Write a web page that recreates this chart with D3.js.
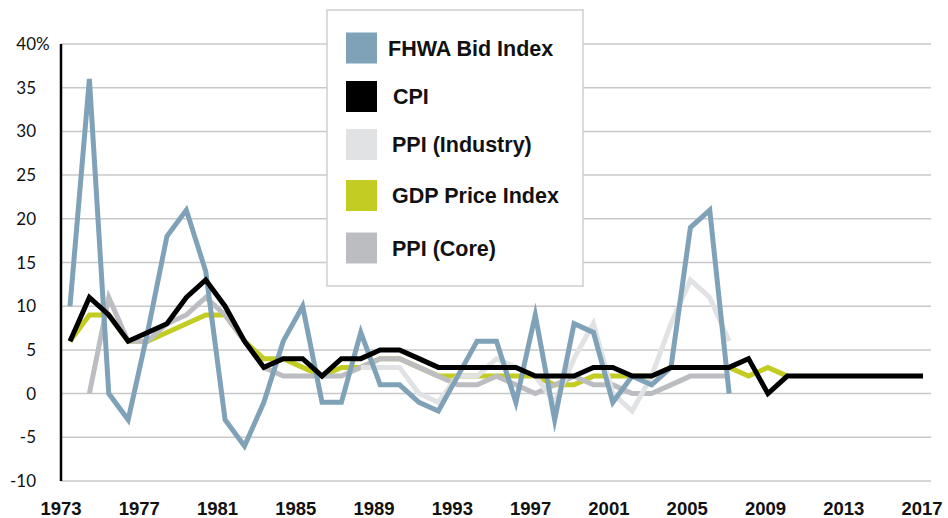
<!DOCTYPE html>
<html><head><meta charset="utf-8">
<script src="https://cdn.jsdelivr.net/npm/d3@7"></script>
<style>body{margin:0;background:#fff}svg{display:block}</style>
</head><body>
<svg id="c" width="948" height="518"></svg>
<script>
const years = d3.range(1973, 2018);
const fhwa = [10,36,0,-3,7,18,21,14,-3,-6,-1,6,10,-1,-1,7,1,1,-1,-2,2,6,6,-1,9,-3,8,7,-1,2,1,3,19,21,0];
const cpi = [6,11,9,6,7,8,11,13,10,6,3,4,4,2,4,4,5,5,4,3,3,3,3,3,2,2,2,3,3,2,2,3,3,3,3,4,0,2,2,2,2,2,2,2,2];
const ppiIndustryStart = 1988;
const ppiIndustry = [3,3,3,0,-1,2,2,4,3,2,-1,4,8,0,-2,2,8,13,11,6];
const gdp = [6,9,9,6,6,7,8,9,9,6,4,4,3,2,3,3,4,4,3,2,2,2,2,2,2,1,1,2,2,2,2,3,3,3,3,2,3,2];
const ppiCoreStart = 1974;
const ppiCore = [0,11,6,6,8,9,11,9,6,3,2,2,2,2,3,4,4,3,2,1,1,2,1,0,1,2,1,1,0,0,1,2,2,2];
const yTicks = [-10,-5,0,5,10,15,20,25,30,35,40];
const xTicks = [1973,1977,1981,1985,1989,1993,1997,2001,2005,2009,2013,2017];
const legendNames = ["FHWA Bid Index","CPI","PPI (Industry)","GDP Price Index","PPI (Core)"];
const colors = ["#7fa2b8","#000000","#e1e2e3","#c2cc22","#bcbdc0"];

const svg = d3.select("#c");
const x = d3.scaleLinear().domain([1973,2017]).range([70,923]);
const xl = d3.scaleLinear().domain([1973,2017]).range([61,922]);
const y = d3.scaleLinear().domain([-10,40]).range([481,44]);

// gridlines
svg.append("g").selectAll("line").data(yTicks).join("line")
  .attr("x1",61).attr("x2",931).attr("y1",d=>y(d)).attr("y2",d=>y(d))
  .attr("stroke","#c8c8c8").attr("stroke-width",1.5);

// y labels
const yl = svg.append("g").attr("font-family","Lato, 'Open Sans', sans-serif").attr("font-size",17).attr("fill","#111");
yl.selectAll("text").data(yTicks).join("text")
  .attr("x",36).attr("y",d=>y(d)+6).attr("text-anchor","end").text(d=>d);
yl.append("text").attr("x",36).attr("y",y(40)+6).text("%");

// x labels
svg.append("g").selectAll("text").data(xTicks).join("text")
  .attr("x",d=>xl(d)).attr("y",515).attr("text-anchor","middle")
  .attr("font-family","'Liberation Sans', Arial, sans-serif").attr("font-weight","bold")
  .attr("font-size",18.5).attr("fill","#111").text(d=>d);

// series
const mk = (vals, start) => vals.map((v,i)=>[start+i, v]);
const series = [
  {data: mk(gdp,1973), c: colors[3]},
  {data: mk(ppiCore,ppiCoreStart), c: colors[4]},
  {data: mk(ppiIndustry,ppiIndustryStart), c: colors[2]},
  {data: mk(fhwa,1973), c: colors[0]},
  {data: mk(cpi,1973), c: colors[1]},
];
const line = d3.line().x(d=>x(d[0])).y(d=>y(d[1]));
svg.append("g").selectAll("path").data(series).join("path")
  .attr("d",d=>line(d.data)).attr("fill","none").attr("stroke",d=>d.c)
  .attr("stroke-width",5).attr("stroke-linejoin","miter").attr("stroke-miterlimit",10);

// y axis
svg.append("line").attr("x1",61).attr("x2",61).attr("y1",44).attr("y2",481)
  .attr("stroke","#000").attr("stroke-width",2.5);

// legend
const lg = svg.append("g");
lg.append("rect").attr("x",327).attr("y",10).attr("width",256).attr("height",276)
  .attr("fill","#fff").attr("stroke","#cfcfcf").attr("stroke-width",1.5);
const rowY = [48,96.5,144.5,195.5,248];
const textX = [388,393,392,392,392];
legendNames.forEach((n,i)=>{
  lg.append("rect").attr("x",346).attr("y",rowY[i]-15.5).attr("width",31).attr("height",31).attr("fill",colors[i]);
  lg.append("text").attr("x",textX[i]).attr("y",rowY[i]+7.5)
    .attr("font-family","'Liberation Sans', Arial, sans-serif").attr("font-weight","bold")
    .attr("font-size",21.5).attr("fill","#111").text(n);
});
</script>
</body></html>
